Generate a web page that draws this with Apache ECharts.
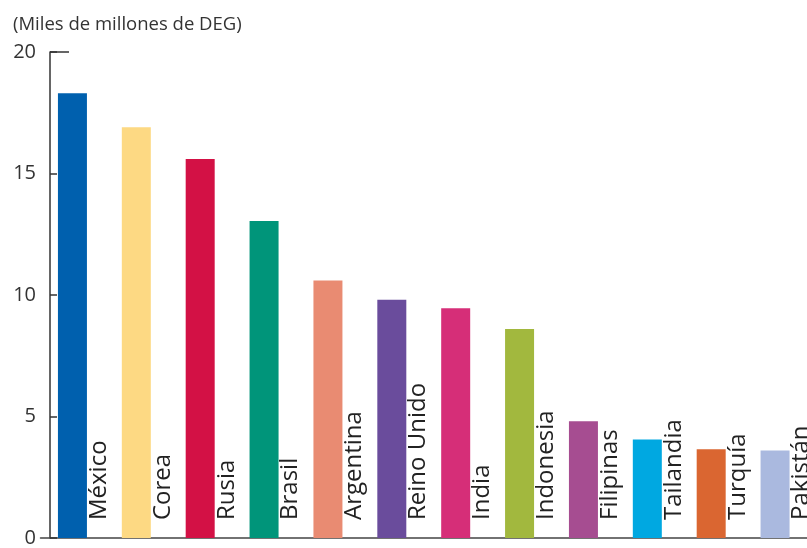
<!DOCTYPE html>
<html>
<head>
<meta charset="utf-8">
<script src="https://cdn.jsdelivr.net/npm/echarts@6/dist/echarts.min.js"></script>
<style>
  html, body { margin: 0; padding: 0; background: #fff; }
  #chart { width: 807px; height: 548px; }
</style>
</head>
<body>
<div id="chart"></div>
<script>
const countries = ["México", "Corea", "Rusia", "Brasil", "Argentina", "Reino Unido",
  "India", "Indonesia", "Filipinas", "Tailandia", "Turquía", "Pakistán"];
const values = [18.3, 16.9, 15.6, 13.05, 10.6, 9.8, 9.45, 8.6, 4.8, 4.05, 3.65, 3.6];
const barColors = ["#0060ae", "#fdd983", "#d31145", "#00957a", "#e98b72", "#6a4c9c",
  "#d62e78", "#a2b83e", "#a64d91", "#00a8e1", "#da6631", "#aab9df"];
const yTicks = [0, 5, 10, 15, 20];

const font = "'Open Sans', 'Noto Sans', sans-serif";
const chart = echarts.init(document.getElementById("chart"));

const option = {
  animation: false,
  title: {
    text: "(Miles de millones de DEG)",
    left: 8,
    top: 10,
    textStyle: { fontFamily: font, fontSize: 18.5, fontWeight: "normal", color: "#333" },
  },
  grid: { left: 40.5, right: 0, top: 52, bottom: 10 },
  xAxis: {
    type: "category",
    data: countries,
    axisLine: { lineStyle: { color: "#444", width: 1.5 } },
    axisTick: { show: false },
    axisLabel: { show: false },
  },
  yAxis: {
    type: "value",
    min: yTicks[0],
    max: yTicks[yTicks.length - 1],
    interval: 5,
    offset: -9.5,
    axisLine: { show: true, lineStyle: { color: "#333", width: 1.5 } },
    axisTick: { show: true, inside: true, length: 7, lineStyle: { color: "#333", width: 1.5 } },
    splitLine: { show: false },
    axisLabel: { fontFamily: font, fontSize: 20, color: "#333", margin: 14 },
  },
  graphic: [
    {
      type: "line",
      shape: { x1: 50, y1: 52, x2: 69, y2: 52 },
      style: { stroke: "#333", lineWidth: 1.5 },
    },
  ],
  series: [
    {
      type: "bar",
      barWidth: 29,
      data: values.map((v, i) => ({ value: v, itemStyle: { color: barColors[i] } })),
      label: {
        show: true,
        formatter: (p) => p.name,
        position: ["100%", "100%"],
        rotate: 90,
        align: "left",
        verticalAlign: "top",
        offset: [18, 0],
        fontFamily: font,
        fontSize: 24,
        color: "#222",
      },
    },
  ],
};

chart.setOption(option);
</script>
</body>
</html>
